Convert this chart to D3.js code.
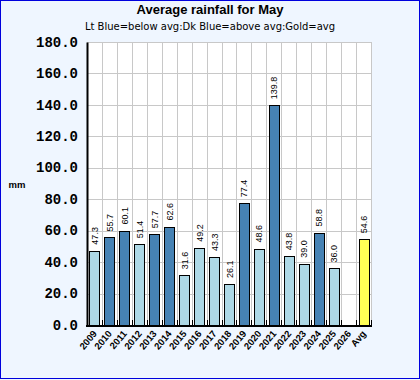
<!DOCTYPE html>
<html><head><meta charset="utf-8">
<script src="https://cdn.jsdelivr.net/npm/d3@7"></script>
<style>html,body{margin:0;padding:0;background:#eff6ff;}svg{display:block;}</style>
</head><body>
<script>
const categories = ["2009","2010","2011","2012","2013","2014","2015","2016","2017","2018","2019","2020","2021","2022","2023","2024","2025","2026","Avg"];
const values = [47.3,55.7,60.1,51.4,57.7,62.6,31.6,49.2,43.3,26.1,77.4,48.6,139.8,43.8,39.0,58.8,36.0,null,54.6];
const yTicks = [0,20,40,60,80,100,120,140,160,180];
const title = "Average rainfall for May";
const subtitle = "Lt Blue=below avg:Dk Blue=above avg:Gold=avg";
const yLabel = "mm";

const W = 420, H = 380;
const m = {left: 87, right: 49, top: 42, bottom: 55};
const svg = d3.select("body").append("svg").attr("width", W).attr("height", H);
svg.append("rect").attr("x",0.5).attr("y",0.5).attr("width",W-1).attr("height",H-2)
  .attr("fill","#eff6ff").attr("stroke","#0000dd").attr("stroke-width",1);

const x = d3.scaleBand().domain(categories).range([m.left, W - m.right]).paddingInner(0.33).paddingOuter(0.165);
const xb = d3.scaleBand().domain(categories).range([m.left, W - m.right]);
const y = d3.scaleLinear().domain([0,180]).range([H - m.bottom, m.top]);
const avg = values[values.length-1];

svg.append("rect").attr("x", m.left).attr("y", m.top).attr("width", W-m.left-m.right).attr("height", H-m.top-m.bottom).attr("fill","#fff");

// grid
svg.append("g").selectAll("line").data(yTicks).join("line")
  .attr("x1", m.left).attr("x2", W-m.right).attr("y1", d=>Math.round(y(d))+0.5).attr("y2", d=>Math.round(y(d))+0.5)
  .attr("stroke","#c8c8c8").attr("stroke-width",1);
const bounds = categories.map(c=>xb(c)).concat([W-m.right]);
svg.append("g").selectAll("line").data(bounds.slice(1)).join("line")
  .attr("x1", d=>Math.round(d)+0.5).attr("x2", d=>Math.round(d)+0.5).attr("y1", m.top).attr("y2", H-m.bottom)
  .attr("stroke","#c8c8c8").attr("stroke-width",1);

// bars
const data = categories.map((c,i)=>({c, v: values[i], i}));
svg.append("g").selectAll("rect").data(data.filter(d=>d.v!=null)).join("rect")
  .attr("x", d=>Math.round(x(d.c))+0.5).attr("width", Math.round(x.bandwidth()))
  .attr("y", d=>Math.round(y(d.v))+0.5).attr("height", d=>Math.round(y(0))-Math.round(y(d.v)))
  .attr("fill", d=> d.c==="Avg" ? "#ffff55" : (d.v > avg ? "#4682b4" : "#add8e6"))
  .attr("stroke","#000").attr("stroke-width",1);

// value labels
svg.append("g").selectAll("text").data(data.filter(d=>d.v!=null)).join("text")
  .attr("transform", d=>`translate(${x(d.c)+x.bandwidth()/2+3.5},${y(d.v)-6}) rotate(-90)`)
  .attr("font-family","Liberation Sans, Arial, sans-serif").attr("font-size","9px")
  .attr("fill","#000").text(d=>d.v.toFixed(1));

// axes
const yAxis = svg.append("g").attr("transform",`translate(${m.left},0)`)
  .call(d3.axisLeft(y).tickValues(yTicks).tickSize(0).tickPadding(9).tickFormat(d=>d.toFixed(1)));
yAxis.select(".domain").attr("stroke","#000").attr("stroke-width",2);
yAxis.selectAll("text").attr("font-family","Liberation Mono, Courier New, monospace").attr("font-weight","bold").attr("font-size","14px").attr("fill","#000").attr("dy","0.3em");

// bottom axis with inward ticks at band boundaries
svg.append("line").attr("x1", m.left-1).attr("x2", W-m.right).attr("y1", y(0)+1).attr("y2", y(0)+1).attr("stroke","#000").attr("stroke-width",2);
svg.append("g").selectAll("line").data(bounds.slice(1)).join("line")
  .attr("x1", d=>Math.round(d)+0.5).attr("x2", d=>Math.round(d)+0.5).attr("y1", y(0)-5).attr("y2", y(0)+2)
  .attr("stroke","#000").attr("stroke-width",1);

svg.append("g").selectAll("text").data(categories).join("text")
  .attr("transform", d=>`translate(${x(d)+x.bandwidth()/2+3},${y(0)+9}) rotate(-50)`)
  .attr("text-anchor","end")
  .attr("font-family","Liberation Sans, Arial, sans-serif").attr("font-weight","bold").attr("font-size","9.5px")
  .attr("fill","#000").text(d=>d);

svg.append("text").attr("x",210).attr("y",14).attr("text-anchor","middle")
  .attr("font-family","Liberation Sans, Arial, sans-serif").attr("font-weight","bold").attr("font-size","13px").text(title);
svg.append("text").attr("x",210).attr("y",30).attr("text-anchor","middle")
  .attr("font-family","DejaVu Sans, sans-serif").attr("font-size","10px").text(subtitle);
svg.append("text").attr("x",17).attr("y",188).attr("text-anchor","middle")
  .attr("font-family","Liberation Sans, Arial, sans-serif").attr("font-weight","bold").attr("font-size","9.5px").text(yLabel);
</script>
</body></html>
